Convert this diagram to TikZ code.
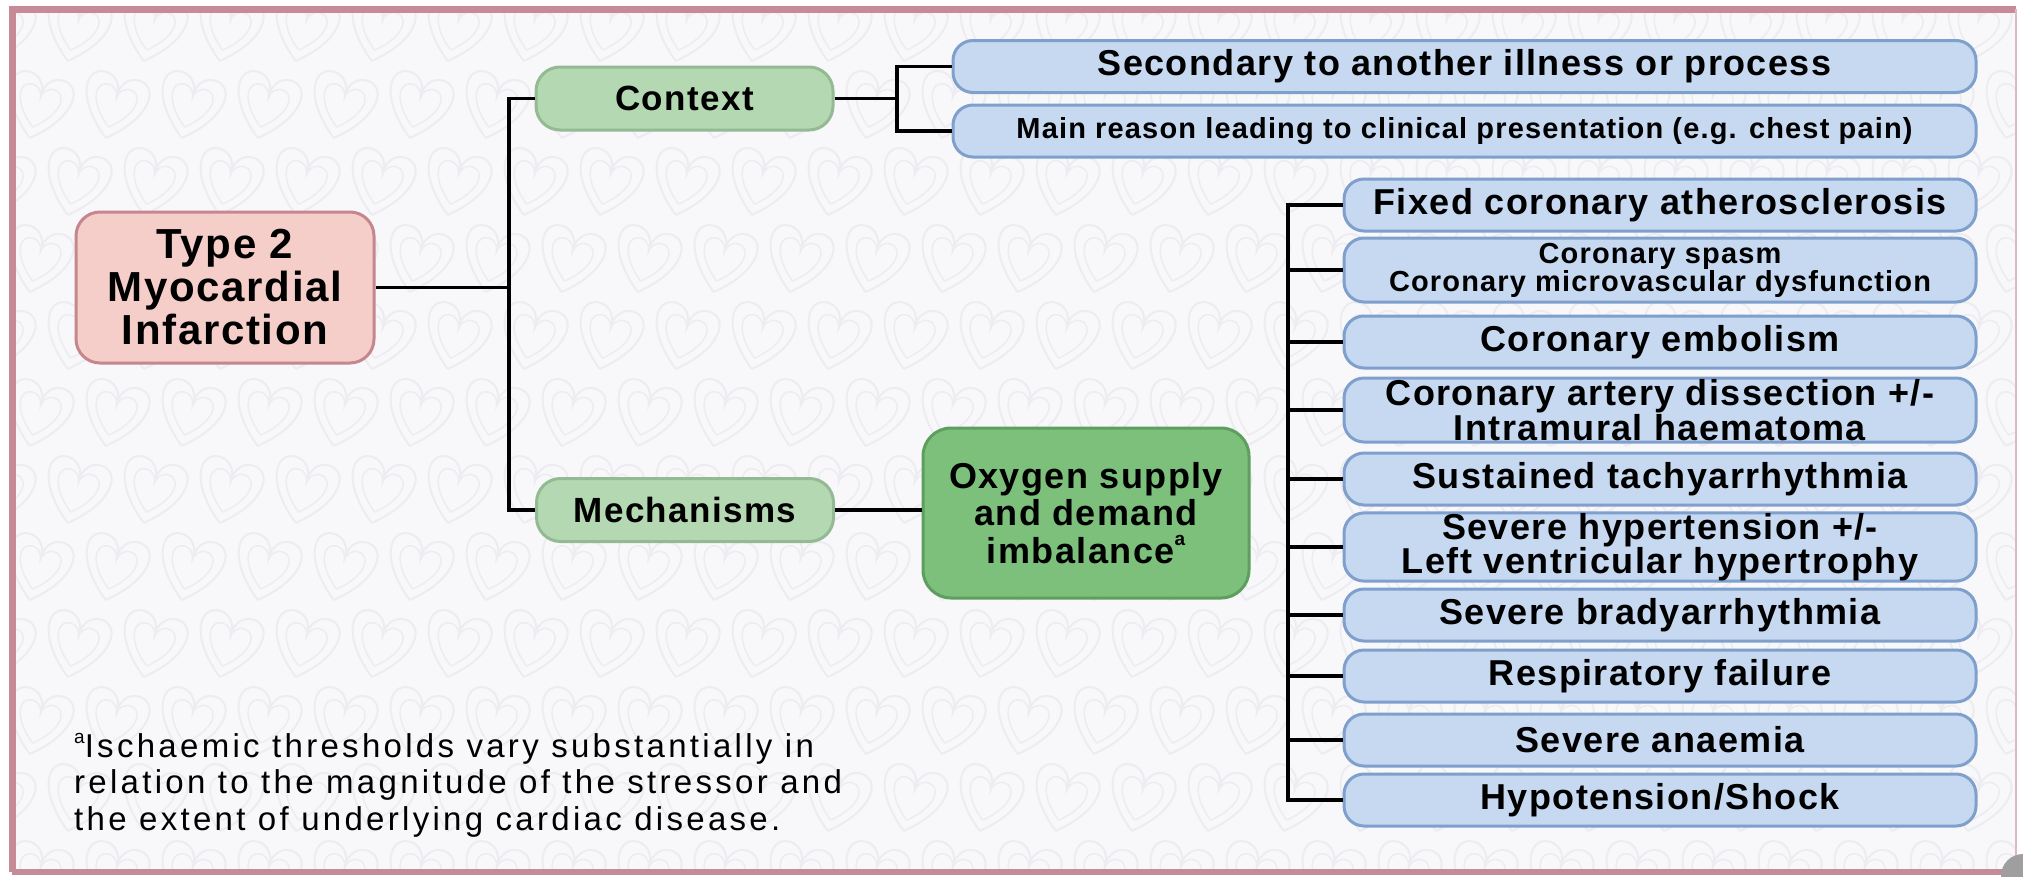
\documentclass[tikz,border=0pt]{standalone}
\usepackage{fontspec}
\setmainfont{Liberation Sans}
\newfontfamily\boxfont{Liberation Sans}[LetterSpace=4]
\newfontfamily\notefont{Liberation Sans}[LetterSpace=10]
\definecolor{bgc}{HTML}{F8F8FA}
\definecolor{heartc}{HTML}{ECECF1}
\definecolor{framec}{HTML}{C78A97}
\definecolor{pinkfill}{HTML}{F5CEC9}
\definecolor{pinkline}{HTML}{C6868E}
\definecolor{lgfill}{HTML}{B4D8B2}
\definecolor{lgline}{HTML}{94BA94}
\definecolor{dgfill}{HTML}{7CC07C}
\definecolor{dgline}{HTML}{5E9E5E}
\definecolor{bluefill}{HTML}{C6D9F1}
\definecolor{blueline}{HTML}{7F9FCC}
\tikzset{
  heartpic/.pic={
    \draw[heartc, line width=2pt, rotate=-15]
      (0,32) .. controls (-40,0) and (-38,-32) .. (-17,-32)
      .. controls (-6,-32) and (0,-22) .. (0,-14)
      .. controls (0,-22) and (6,-32) .. (17,-32)
      .. controls (38,-32) and (40,0) .. (0,32);
    \draw[heartc, line width=1.5pt, rotate=-15, scale=0.65]
      (0,32) .. controls (-40,0) and (-38,-32) .. (-17,-32)
      .. controls (-6,-32) and (0,-22) .. (0,-14)
      .. controls (0,-22) and (6,-32) .. (17,-32)
      .. controls (38,-32) and (40,0) .. (0,32);
  },
  basebox/.style={draw, line width=3pt, align=center, inner sep=0pt, text=black},
  pinkbox/.style={basebox, fill=pinkfill, draw=pinkline, rounded corners=24pt,
    minimum width=298pt, minimum height=151pt,
    font=\boxfont\bfseries\fontsize{42}{43}\selectfont},
  greenbox/.style={basebox, fill=lgfill, draw=lgline, rounded corners=24pt,
    minimum width=297pt, minimum height=63pt,
    font=\boxfont\bfseries\fontsize{35}{36}\selectfont},
  oxybox/.style={basebox, fill=dgfill, draw=dgline, rounded corners=28pt,
    minimum width=326pt, minimum height=170pt,
    font=\boxfont\bfseries\fontsize{36}{37.5}\selectfont},
  bluebox/.style={basebox, fill=bluefill, draw=blueline, rounded corners=20pt,
    minimum height=52pt, font=\boxfont\bfseries\fontsize{36}{30}\selectfont},
  rbox/.style={bluebox, minimum width=632pt},
  tallbox/.style={minimum height=64pt},
  smalltext/.style={font=\boxfont\bfseries\fontsize{29}{28}\selectfont},
  conn/.style={draw=black, line width=3.5pt},
}
\begin{document}
\begin{tikzpicture}[x=1pt,y=-1pt]
\useasboundingbox (0,0) rectangle (2023,876);
\fill[white] (0,0) rectangle (2023,876);
\fill[bgc] (12,9) rectangle (2016,872);
% background heart pattern
\begin{scope}
  \clip (12,9) rectangle (2016,872);
  \foreach \r in {0,...,11}{
    \foreach \c in {0,...,27}{
      \pic at ({\c*76 + mod(\r,2)*38}, {\r*77+30}) {heartpic};
    }
  }
\end{scope}
% frame
\draw[framec, line width=7pt] (12,872) -- (12,9) -- (2016,9);
\draw[framec, line width=6pt] (12,872) -- (2016,872);
\draw[framec!60, line width=2pt] (2016,9) -- (2016,872);
\fill[gray!75] (2023,876) circle (22);

% nodes
\node[pinkbox] (mi) at (225,287.5) {Type 2\\Myocardial\\Infarction};
\node[greenbox] (ctx) at (684.5,98.5) {Context};
\node[greenbox] (mech) at (685,510) {Mechanisms};
\node[oxybox] (oxy) at (1086,513) {Oxygen supply\\and demand\\imbalance\raisebox{0.5em}{\fontsize{19}{19}\selectfont a}};

\node[bluebox, minimum width=1023pt] (sec) at (1464.5,66.5) {Secondary to another illness or process};
\node[bluebox, minimum width=1023pt, smalltext] (mainr) at (1464.5,131) {Main reason leading to clinical presentation (e.g. chest pain)};

\node[rbox] (r1) at (1660,205) {Fixed coronary atherosclerosis};
\node[rbox, tallbox, smalltext] (r2) at (1660,270) {Coronary spasm\\Coronary microvascular dysfunction};
\node[rbox] (r3) at (1660,342) {Coronary embolism};
\node[rbox, tallbox] (r4) at (1660,410) {Coronary artery dissection +/-\\Intramural haematoma};
\node[rbox] (r5) at (1660,479) {Sustained tachyarrhythmia};
\node[rbox, tallbox] (r6) at (1660,547) {Severe hypertension +/-\\Left ventricular hypertrophy};
\node[rbox] (r7) at (1660,615) {Severe bradyarrhythmia};
\node[rbox] (r8) at (1660,676) {Respiratory failure};
\node[rbox] (r9) at (1660,740) {Severe anaemia};
\node[rbox] (r10) at (1660,800) {Hypotension/Shock};

\node[anchor=north west, align=left, inner sep=0pt, text=black,
      font=\notefont\fontsize{33}{36.5}\selectfont] (note) at (74,733)
  {\raisebox{0.42em}{\fontsize{19}{19}\selectfont a}Ischaemic thresholds vary substantially in\\relation to the magnitude of the stressor and\\the extent of underlying cardiac disease.};

% connectors
\coordinate (bus1) at (509,0);
\coordinate (bus2) at (897,0);
\coordinate (bus3) at (1288,0);
\draw[conn] (ctx.west) -- (ctx.west -| bus1) -- (mech.west -| bus1) -- (mech.west);
\draw[conn] (mi.east) -- (mi.east -| bus1);
\draw[conn] (ctx.east) -- (ctx.east -| bus2);
\draw[conn] (sec.west) -- (sec.west -| bus2) -- (mainr.west -| bus2) -- (mainr.west);
\draw[conn] (mech.east) -- (mech.east -| oxy.west);
\draw[conn] (r1.west) -- (r1.west -| bus3) -- (r10.west -| bus3) -- (r10.west);
\foreach \k in {2,...,9}{
  \draw[conn] (r\k.west) -- (r\k.west -| bus3);
}
\end{tikzpicture}
\end{document}
